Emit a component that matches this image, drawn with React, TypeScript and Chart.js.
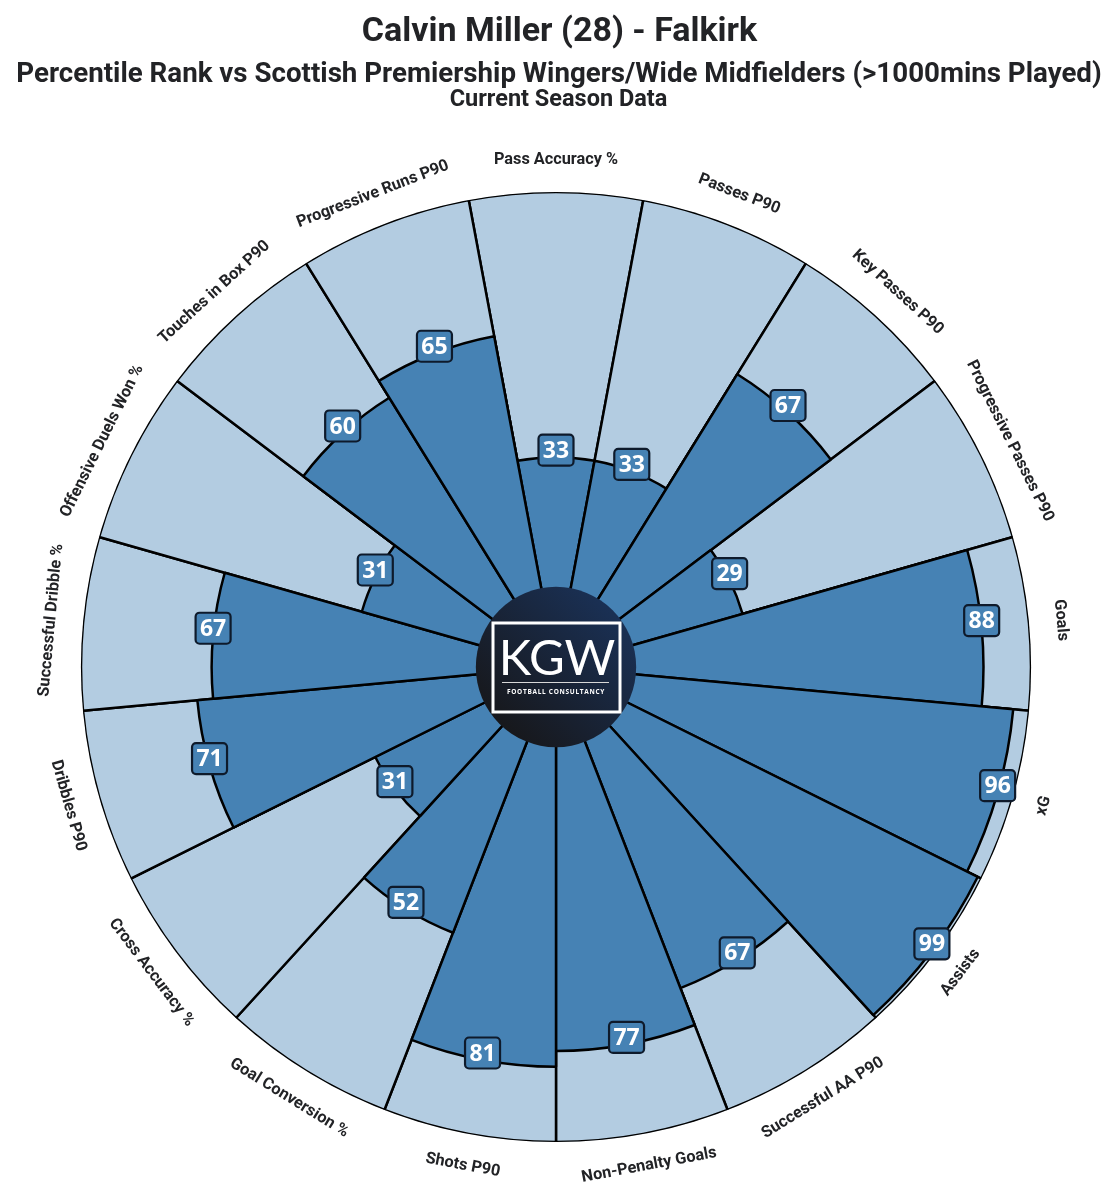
import { useRef, useEffect } from 'react';
import { Chart, registerables } from 'chart.js';

Chart.register(...registerables);

const titleLines = [
  'Calvin Miller (28) - Falkirk',
  'Percentile Rank vs Scottish Premiership Wingers/Wide Midfielders (>1000mins Played)',
  'Current Season Data',
];

const metrics = [
  'Pass Accuracy %',
  'Passes P90',
  'Key Passes P90',
  'Progressive Passes P90',
  'Goals',
  'xG',
  'Assists',
  'Successful AA P90',
  'Non-Penalty Goals',
  'Shots P90',
  'Goal Conversion %',
  'Cross Accuracy %',
  'Dribbles P90',
  'Successful Dribble %',
  'Offensive Duels Won %',
  'Touches in Box P90',
  'Progressive Runs P90',
];

const percentiles = [33, 33, 67, 29, 88, 96, 99, 67, 77, 81, 52, 31, 71, 67, 31, 60, 65];
const fullRank = metrics.map(() => 100);

const STEEL = '#4682b4';
const PALE = '#b3cce1';
const EDGE = '#000000';
const INK = '#222326';
const FONT = 'Roboto, sans-serif';

const pizzaPlugin = {
  id: 'pizza',
  beforeDatasetsDraw(chart: any) {
    const { ctx } = chart;
    const r = chart.scales.r;
    ctx.save();
    ctx.beginPath();
    ctx.arc(r.xCenter, r.yCenter, r.drawingArea + 0.1, 0, Math.PI * 2);
    ctx.clip();
  },
  afterDatasetsDraw(chart: any) {
    const { ctx } = chart;
    const r = chart.scales.r;
    ctx.restore();

    const cx = r.xCenter;
    const cy = r.yCenter;
    const step = (Math.PI * 2) / metrics.length;

    // hub with logo
    const hub = r.getDistanceFromCenterForValue(0) + 1;
    const grad = ctx.createLinearGradient(cx - hub * 0.7, cy + hub * 0.7, cx + hub * 0.7, cy - hub * 0.7);
    grad.addColorStop(0, '#17181c');
    grad.addColorStop(1, '#1a3054');
    ctx.fillStyle = grad;
    ctx.beginPath();
    ctx.arc(cx, cy, hub, 0, Math.PI * 2);
    ctx.fill();

    ctx.strokeStyle = '#ffffff';
    ctx.lineWidth = 3;
    ctx.strokeRect(cx - 63, cy - 44, 127, 89);
    ctx.fillStyle = '#ffffff';
    ctx.textAlign = 'center';
    ctx.textBaseline = 'middle';
    ctx.font = '49px Lato, sans-serif';
    ctx.fillText('KGW', cx + 1, cy - 8);
    ctx.lineWidth = 1;
    ctx.strokeStyle = '#d8d8d8';
    ctx.beginPath();
    ctx.moveTo(cx - 54, cy + 15.5);
    ctx.lineTo(cx + 53, cy + 15.5);
    ctx.stroke();
    ctx.font = 'bold 6.5px "Open Sans", sans-serif';
    (ctx as any).letterSpacing = '0.7px';
    ctx.fillText('FOOTBALL CONSULTANCY', cx, cy + 25.5);
    (ctx as any).letterSpacing = '0px';

    // metric names round the outside
    ctx.fillStyle = INK;
    ctx.font = `bold 16.3px ${FONT}`;
    metrics.forEach((name, i) => {
      const a = i * step;
      const d = r.drawingArea + 32;
      const x = cx + Math.sin(a) * d;
      const y = cy - Math.cos(a) * d;
      const lower = a > Math.PI / 2 && a < (Math.PI * 3) / 2;
      ctx.save();
      ctx.translate(x, y);
      ctx.rotate(lower ? a - Math.PI : a);
      ctx.fillText(name, 0, 0);
      ctx.restore();
    });

    // value badges sit on the arc, nudged up a little
    percentiles.forEach((v, i) => {
      const a = i * step;
      const d = r.getDistanceFromCenterForValue(v);
      const x = cx + Math.sin(a) * d;
      const y = cy - Math.cos(a) * d - 7;
      ctx.beginPath();
      ctx.roundRect(x - 17.5, y - 15.5, 35, 31, 4);
      ctx.fillStyle = STEEL;
      ctx.fill();
      ctx.lineWidth = 2.2;
      ctx.strokeStyle = '#0e1a2b';
      ctx.stroke();
      ctx.fillStyle = '#ffffff';
      ctx.font = 'bold 23px "Open Sans", sans-serif';
      ctx.fillText(String(v), x, y + 1);
    });

    // headings
    ctx.fillStyle = INK;
    ctx.font = `bold 34px ${FONT}`;
    ctx.fillText(titleLines[0], 559.5, 32);
    ctx.font = `bold 27.7px ${FONT}`;
    ctx.fillText(titleLines[1], 559, 75);
    ctx.font = `bold 23.5px ${FONT}`;
    ctx.fillText(titleLines[2], 558.5, 100.5);
  },
};

const App = () => {
  const chartRef = useRef<HTMLCanvasElement | null>(null);

  useEffect(() => {
    const chart = new Chart(chartRef.current!, {
      type: 'polarArea',
      data: {
        labels: metrics,
        datasets: [
          {
            label: 'Percentile',
            data: percentiles,
            backgroundColor: STEEL,
            borderColor: EDGE,
            borderWidth: 2.5,
          },
          {
            label: 'Full rank',
            data: fullRank,
            backgroundColor: PALE,
            borderColor: EDGE,
            borderWidth: 2.5,
          },
        ],
      },
      options: {
        responsive: false,
        animation: false,
        layout: { padding: { left: 81, right: 86, top: 192, bottom: 58 } },
        scales: {
          r: {
            min: -20,
            max: 100,
            startAngle: -180 / metrics.length,
            ticks: { display: false },
            grid: { display: false },
            angleLines: { display: false },
            pointLabels: { display: false },
          },
        },
        plugins: {
          legend: { display: false },
          tooltip: { enabled: false },
        },
      },
      plugins: [pizzaPlugin],
    });
    return () => {
      chart.destroy();
    };
  }, []);

  return (
    <div style={{ position: 'absolute', left: 0, top: 0, width: 1117, height: 1200 }}>
      <canvas ref={chartRef} width={1117} height={1200} />
    </div>
  );
};

export default App;
